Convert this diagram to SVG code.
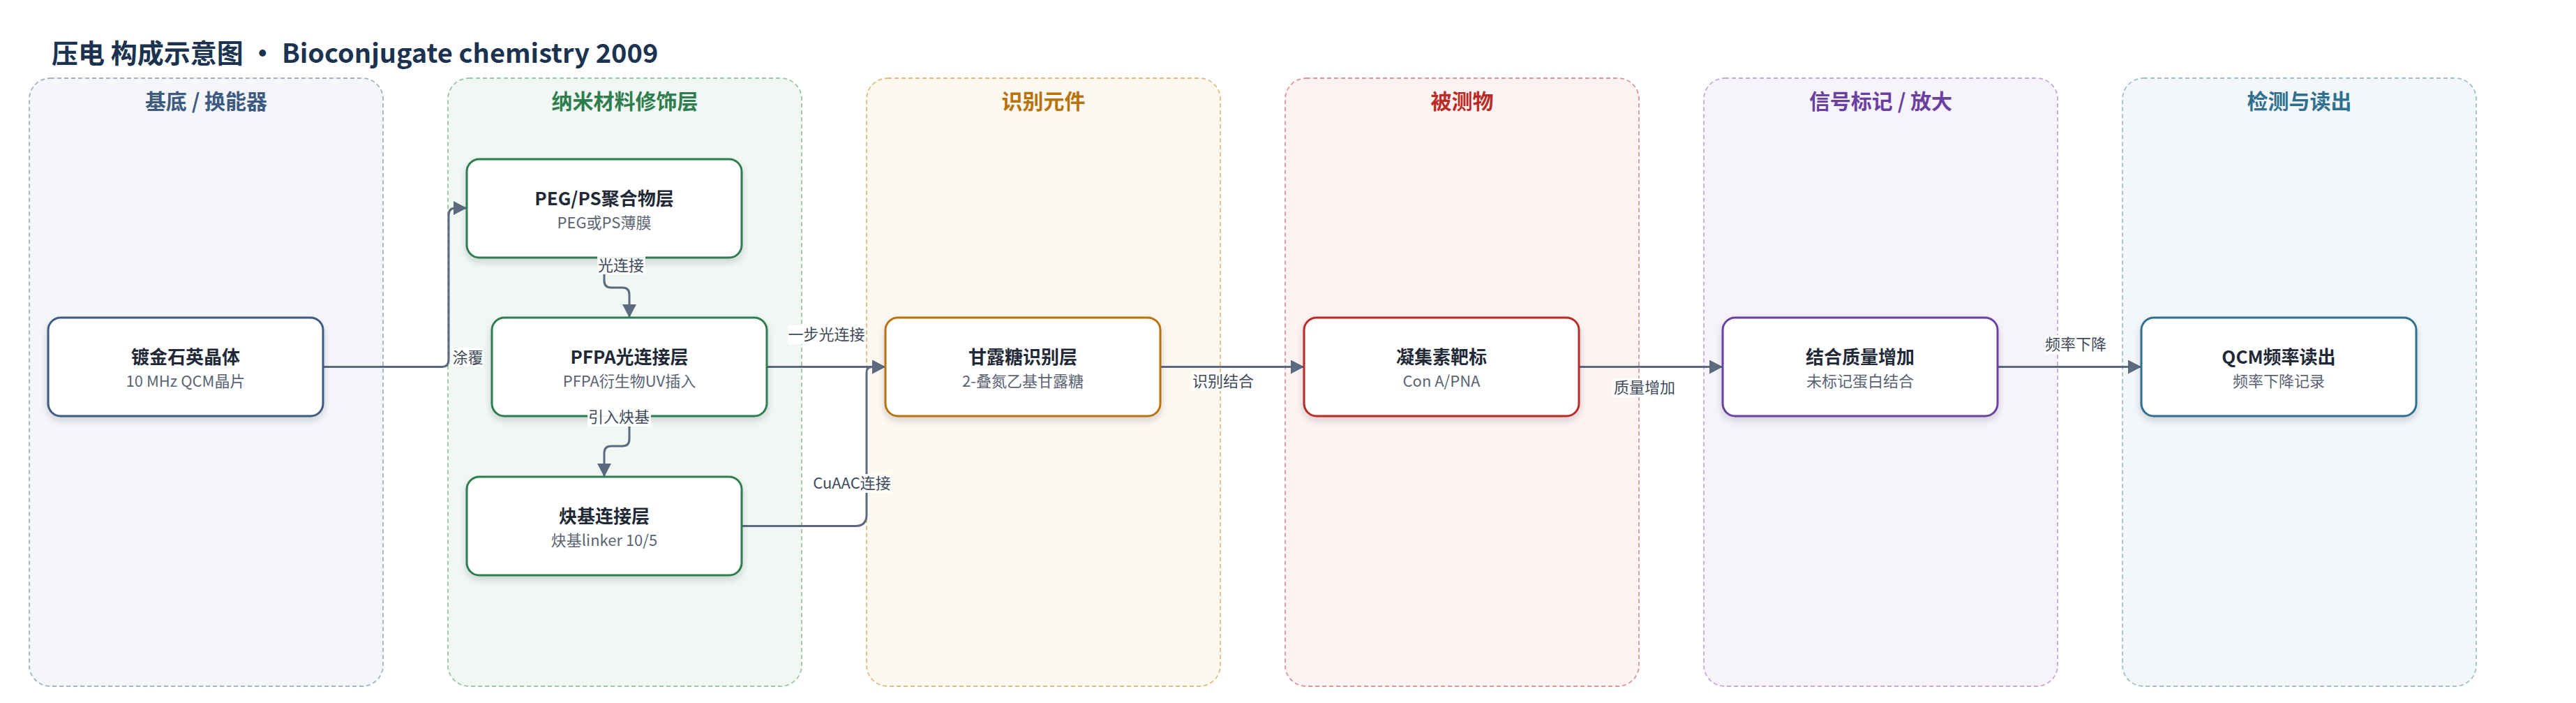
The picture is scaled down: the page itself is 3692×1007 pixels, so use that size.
<svg xmlns="http://www.w3.org/2000/svg" width="3692" height="1007" viewBox="0 0 3692 1007">
<defs>
<style>
text{font-family:"Noto Sans CJK SC","Noto Sans",sans-serif}
.title{font-size:38px;font-weight:700;fill:#1b3350}
.gh{font-size:30px;font-weight:700;text-anchor:middle}
.grp{stroke-width:1.8;stroke-dasharray:6 4}
.node{fill:#fff;stroke-width:3;filter:url(#sh)}
.nt{font-size:26px;font-weight:700;fill:#1f2937;text-anchor:middle}
.ns{font-size:22px;fill:#5a6473;text-anchor:middle}
.edge{fill:none;stroke:#5b6a7f;stroke-width:3}
.lb{font-size:22px;fill:#3f4b5b;text-anchor:middle}
.lbg{fill:#fff;fill-opacity:0.92}
</style>
<filter id="sh" x="-10%" y="-10%" width="120%" height="130%">
<feDropShadow dx="0" dy="5" stdDeviation="5" flood-color="#1f2937" flood-opacity="0.18"/>
</filter>
<marker id="arr" markerUnits="userSpaceOnUse" markerWidth="20" markerHeight="22" refX="19" refY="10" orient="auto">
<path d="M0,0 L19,10 L0,20 Z" fill="#5b6a7f"/>
</marker>
</defs>
<rect width="3692" height="1007" fill="#fff"/>
<text class="title" x="74" y="90">压电 构成示意图 · Bioconjugate chemistry 2009</text>

<g id="groups">
<g id="g-substrate">
<rect class="grp" x="42" y="112" width="507" height="871" rx="30" fill="#f4f6fa" stroke="#a3b1c6"/>
<text class="gh" x="295.5" y="156" fill="#3d5a80">基底 / 换能器</text>
</g>
<g id="g-nano">
<rect class="grp" x="642" y="112" width="507" height="871" rx="30" fill="#f1f8f3" stroke="#99c5a8"/>
<text class="gh" x="895.5" y="156" fill="#2e7d4f">纳米材料修饰层</text>
</g>
<g id="g-recog">
<rect class="grp" x="1242" y="112" width="507" height="871" rx="30" fill="#fdf8f0" stroke="#e0bd7f"/>
<text class="gh" x="1495.5" y="156" fill="#b8730a">识别元件</text>
</g>
<g id="g-analyte">
<rect class="grp" x="1842" y="112" width="507" height="871" rx="30" fill="#fdf3f2" stroke="#e09494"/>
<text class="gh" x="2095.5" y="156" fill="#b92b27">被测物</text>
</g>
<g id="g-signal">
<rect class="grp" x="2442" y="112" width="507" height="871" rx="30" fill="#f7f3fb" stroke="#c4a8de"/>
<text class="gh" x="2695.5" y="156" fill="#6b3fa0">信号标记 / 放大</text>
</g>
<g id="g-readout">
<rect class="grp" x="3042" y="112" width="507" height="871" rx="30" fill="#f3f7f9" stroke="#9dc0cc"/>
<text class="gh" x="3295.5" y="156" fill="#2f6f8f">检测与读出</text>
</g>
</g>

<g id="connectors">
<path class="edge" d="M463 525.5 H633 Q643 525.5 643 515.5 V308 Q643 298 653 298 H669" marker-end="url(#arr)"/>
<path class="edge" d="M866 368 V402 Q866 412 876 412 H892 Q902 412 902 422 V455" marker-end="url(#arr)"/>
<path class="edge" d="M902 596 V629 Q902 639 892 639 H876 Q866 639 866 649 V683" marker-end="url(#arr)"/>
<path class="edge" d="M1099 525.5 H1269" marker-end="url(#arr)"/>
<path class="edge" d="M1063 753.5 H1226 Q1242 753.5 1242 737.5 V533.5 Q1242 525.5 1250 525.5 H1269" marker-end="url(#arr)"/>
<path class="edge" d="M1663 525.5 H1869" marker-end="url(#arr)"/>
<path class="edge" d="M2263 525.5 H2469" marker-end="url(#arr)"/>
<path class="edge" d="M2863 525.5 H3069" marker-end="url(#arr)"/>
</g>

<g id="n-crystal">
<rect class="node" x="69" y="455" width="394" height="141" rx="18" stroke="#3d5a80"/>
<text class="nt" x="266" y="521">镀金石英晶体</text>
<text class="ns" x="266" y="554">10 MHz QCM晶片</text>
</g>
<g id="n-peg">
<rect class="node" x="669" y="228" width="394" height="141" rx="18" stroke="#2e7d4f"/>
<text class="nt" x="866" y="294">PEG/PS聚合物层</text>
<text class="ns" x="866" y="327">PEG或PS薄膜</text>
</g>
<g id="n-pfpa">
<rect class="node" x="705" y="455" width="394" height="141" rx="18" stroke="#2e7d4f"/>
<text class="nt" x="902" y="521">PFPA光连接层</text>
<text class="ns" x="902" y="554">PFPA衍生物UV插入</text>
</g>
<g id="n-alkyne">
<rect class="node" x="669" y="683" width="394" height="141" rx="18" stroke="#2e7d4f"/>
<text class="nt" x="866" y="749">炔基连接层</text>
<text class="ns" x="866" y="782">炔基linker 10/5</text>
</g>
<g id="n-mannose">
<rect class="node" x="1269" y="455" width="394" height="141" rx="18" stroke="#b8730a"/>
<text class="nt" x="1466" y="521">甘露糖识别层</text>
<text class="ns" x="1466" y="554">2-叠氮乙基甘露糖</text>
</g>
<g id="n-lectin">
<rect class="node" x="1869" y="455" width="394" height="141" rx="18" stroke="#b92b27"/>
<text class="nt" x="2066" y="521">凝集素靶标</text>
<text class="ns" x="2066" y="554">Con A/PNA</text>
</g>
<g id="n-mass">
<rect class="node" x="2469" y="455" width="394" height="141" rx="18" stroke="#6b3fa0"/>
<text class="nt" x="2666" y="521">结合质量增加</text>
<text class="ns" x="2666" y="554">未标记蛋白结合</text>
</g>
<g id="n-qcm">
<rect class="node" x="3069" y="455" width="394" height="141" rx="18" stroke="#2f6f8f"/>
<text class="nt" x="3266" y="521">QCM频率读出</text>
<text class="ns" x="3266" y="554">频率下降记录</text>
</g>

<g id="edge-labels">
<rect class="lbg" x="648" y="498" width="45" height="27"/>
<text class="lb" x="670.5" y="520">涂覆</text>
<rect class="lbg" x="856" y="367" width="69" height="26"/>
<text class="lb" x="890" y="388">光连接</text>
<rect class="lbg" x="842" y="584" width="91" height="27"/>
<text class="lb" x="887" y="605">引入炔基</text>
<rect class="lbg" x="1129" y="466" width="112" height="27"/>
<text class="lb" x="1184.5" y="487">一步光连接</text>
<rect class="lbg" x="1165" y="679" width="113" height="27"/>
<text class="lb" x="1221" y="700">CuAAC连接</text>
<rect class="lbg" x="1708" y="533" width="91" height="27"/>
<text class="lb" x="1753" y="554">识别结合</text>
<rect class="lbg" x="2311" y="542" width="91" height="27"/>
<text class="lb" x="2357" y="563">质量增加</text>
<rect class="lbg" x="2930" y="480" width="91" height="27"/>
<text class="lb" x="2975" y="501">频率下降</text>
</g>
</svg>
